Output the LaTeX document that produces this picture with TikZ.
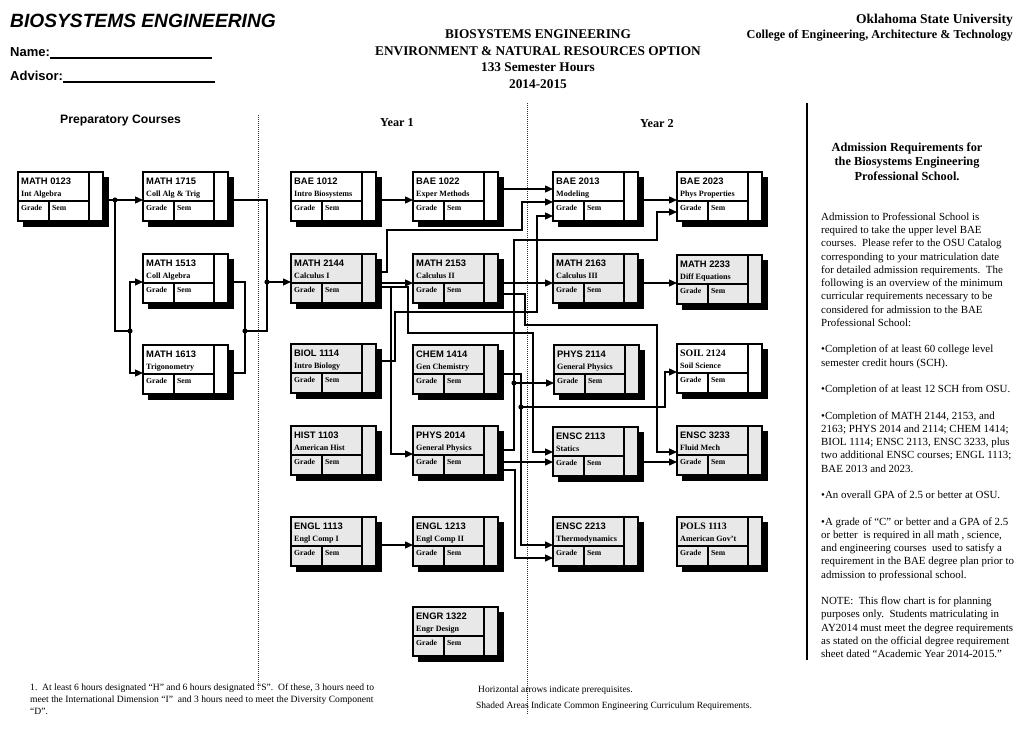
\documentclass[tikz,border=0pt]{standalone}
\usepackage{fontspec}
\setmainfont{Liberation Serif}
\newfontfamily\arialf{Liberation Sans}
\usetikzlibrary{arrows.meta}
\definecolor{shade}{RGB}{232,232,232}

\tikzset{
 cbox/.style={draw, line width=1.3pt, minimum width=85pt, minimum height=49pt, inner sep=0pt, outer sep=0pt, anchor=north west},
 cline/.style={line width=1.3pt},
 conn/.style={line width=1.3pt},
 arr/.style={conn, -{Triangle[length=8pt,width=7pt]}},
 dotline/.style={line width=1pt, dash pattern=on 1pt off 1pt, black!80},
 codef/.style={font=\arialf\bfseries\fontsize{9.4}{11}\selectfont},
 codet/.style={font=\bfseries\fontsize{9.8}{11}\selectfont},
 subf/.style={font=\bfseries\fontsize{8.1}{9}\selectfont},
 gradef/.style={font=\bfseries\fontsize{7.7}{9}\selectfont},
 jdot/.style={fill=black},
 txt/.style={inner sep=0pt},
}

\newcommand\crs[7]{%
  \fill[black] ({#2+5},{#3+5}) rectangle ({#2+91},{#3+55});
  \node[cbox,fill=#6] (#1) at (#2,#3) {};
  \draw[cline] ([shift={(71,0)}]#1.north west) -- ++(0,49);
  \draw[cline] ([shift={(0,29)}]#1.north west) -- ++(71,0);
  \draw[cline] ([shift={(31,29)}]#1.north west) -- ++(0,20);
  \node[#7,anchor=base west,txt] (#1-c) at ([shift={(3,12)}]#1.north west) {#4};
  \node[subf,anchor=base west,txt] (#1-t) at ([shift={(3,24)}]#1.north west) {#5};
  \node[gradef,anchor=base west,txt] (#1-g) at ([shift={(3,38)}]#1.north west) {Grade};
  \node[gradef,anchor=base west,txt] (#1-s) at ([shift={(34,38)}]#1.north west) {Sem};
}

\begin{document}
\begin{tikzpicture}[x=1pt,y=-1pt]
\useasboundingbox (0,0) rectangle (1024,738);

% ---------- header ----------
\node[txt,anchor=base west,font=\arialf\bfseries\itshape\fontsize{19.2}{22}\selectfont] (title) at (10,28) {BIOSYSTEMS ENGINEERING};
\node[txt,anchor=base west,font=\arialf\bfseries\fontsize{13}{15}\selectfont] (name) at (10,57) {Name:\rule[-1.8pt]{162pt}{1.3pt}};
\node[txt,anchor=base west,font=\arialf\bfseries\fontsize{13}{15}\selectfont] (advisor) at (10,81) {Advisor:\rule[-1.8pt]{152pt}{1.3pt}};

\node[txt,anchor=base,font=\bfseries\fontsize{13.3}{16}\selectfont] (h1) at (538,39) {BIOSYSTEMS ENGINEERING};
\node[txt,anchor=base,font=\bfseries\fontsize{13.3}{16}\selectfont] (h2) at (538,55.5) {ENVIRONMENT \& NATURAL RESOURCES OPTION};
\node[txt,anchor=base,font=\bfseries\fontsize{13.3}{16}\selectfont] (h3) at (538,72) {133 Semester Hours};
\node[txt,anchor=base,font=\bfseries\fontsize{13.3}{16}\selectfont] (h4) at (538,88.5) {2014-2015};

\node[txt,anchor=base east,font=\bfseries\fontsize{13.5}{16}\selectfont] (osu) at (1013,24) {Oklahoma State University};
\node[txt,anchor=base east,font=\bfseries\fontsize{12.2}{14}\selectfont] (ceat) at (1013,38.5) {College of Engineering, Architecture \& Technology};

\node[txt,anchor=base west,font=\arialf\bfseries\fontsize{12.2}{14}\selectfont] (prep) at (60,124) {Preparatory Courses};
\node[txt,anchor=base west,font=\bfseries\fontsize{12.2}{14}\selectfont] (y1) at (380,127) {Year 1};
\node[txt,anchor=base west,font=\bfseries\fontsize{12.2}{14}\selectfont] (y2) at (640,128) {Year 2};

% ---------- dividers ----------
\draw[dotline] (258,115) -- (258,690);
\draw[dotline] (527,103) -- (527,715);
\draw[line width=1.3pt] (807,103) -- (807,660);

% ---------- courses ----------
\crs{m0123}{18}{172}{MATH 0123}{Int Algebra}{white}{codef}
\crs{m1715}{143}{172}{MATH 1715}{Coll Alg \& Trig}{white}{codef}
\crs{m1513}{143}{254}{MATH 1513}{Coll Algebra}{white}{codef}
\crs{m1613}{143}{345}{MATH 1613}{Trigonometry}{white}{codef}
\crs{b1012}{291}{172}{BAE 1012}{Intro Biosystems}{white}{codef}
\crs{b1022}{413}{172}{BAE 1022}{Exper Methods}{white}{codef}
\crs{m2144}{291}{254}{MATH 2144}{Calculus I}{shade}{codef}
\crs{m2153}{413}{254}{MATH 2153}{Calculus II}{shade}{codef}
\crs{bi1114}{291}{344}{BIOL 1114}{Intro Biology}{shade}{codef}
\crs{c1414}{413}{345}{CHEM 1414}{Gen Chemistry}{shade}{codef}
\crs{h1103}{291}{426}{HIST 1103}{American Hist}{shade}{codef}
\crs{p2014}{413}{426}{PHYS 2014}{General Physics}{shade}{codef}
\crs{e1113}{291}{517}{ENGL 1113}{Engl Comp I}{shade}{codef}
\crs{e1213}{413}{517}{ENGL 1213}{Engl Comp II}{shade}{codef}
\crs{en1322}{413}{607}{ENGR 1322}{Engr Design}{shade}{codef}
\crs{b2013}{553}{172}{BAE 2013}{Modeling}{white}{codef}
\crs{b2023}{677}{172}{BAE 2023}{Phys Properties}{white}{codef}
\crs{m2163}{553}{254}{MATH 2163}{Calculus III}{shade}{codef}
\crs{m2233}{677}{255}{MATH 2233}{Diff Equations}{shade}{codef}
\crs{p2114}{554}{345}{PHYS 2114}{General Physics}{shade}{codef}
\crs{s2124}{677}{344}{SOIL 2124}{Soil Science}{white}{codet}
\crs{es2113}{553}{427}{ENSC 2113}{Statics}{shade}{codef}
\crs{es3233}{677}{426}{ENSC 3233}{Fluid Mech}{shade}{codef}
\crs{es2213}{553}{517}{ENSC 2213}{Thermodynamics}{shade}{codef}
\crs{po1113}{677}{517}{POLS 1113}{American Gov’t}{shade}{codet}

% ---------- junctions ----------
\coordinate (j1) at (115,200);
\coordinate (j2) at (130,331);
\coordinate (j3) at (245,331);
\coordinate (j4) at (267,282);
\coordinate (j5) at (514,383);
\coordinate (j6) at (521,407);
\coordinate (k1) at (391,287);

% ---------- connectors ----------
\draw[arr] (m0123.east |- j1) -- (m1715.west |- j1);
\draw[conn] (j1) |- (j2);
\draw[arr] (j2) |- (m1513.west |- 0,282);
\draw[arr] (j2) |- (m1613.west |- 0,373);
\draw[conn] (m1513.east |- 0,282) -| (j3);
\draw[conn] (m1613.east |- 0,373) -| (j3);
\draw[conn] (j3) -| (j4);
\draw[conn] (m1715.east |- j1) -| (j4);
\draw[arr] (j4) -- (m2144.west |- j4);

\draw[arr] (b1012.east |- 0,200) -- (b1022.west |- 0,200);
\draw[arr] (b1022.east |- 0,189) -- (b2013.west |- 0,189);
\draw[arr] (m2144.east |- 0,283) -- (m2153.west |- 0,283);
\draw[arr] (m2144.east |- 0,272) -- (387,272) -- (387,230) -- (522,230) -- (522,202) -- (b2013.west |- 0,202);
\draw[arr] (bi1114.east |- 0,361) -- (395,361) -- (395,312) -- (537,312) -- (537,216) -- (b2013.west |- 0,216);
\draw[arr] (m2144.east |- k1) -- (408,287) -- (408,333) -- (533,333) -- (533,452) -- (es2113.west |- 0,452);
\draw[arr] (k1) -- (391,454) -- (p2014.west |- 0,454);
\draw[arr] (m2153.east |- 0,283) -- (m2163.west |- 0,283);
\draw[arr] (m2153.east |- 0,294) -- (525,294) -- (525,325) -- (657,325) -- (657,452) -- (es3233.west |- 0,452);
\draw[arr] (c1414.east |- 0,374) -- (521,374) -- (521,545) -- (es2213.west |- 0,545);
\draw[arr] (j6) -- (665,407) -- (665,372) -- (s2124.west |- 0,372);
\draw[arr] (p2014.east |- 0,450) -- (514,450) -- (514,240) -- (657,240) -- (657,212) -- (b2023.west |- 0,212);
\draw[arr] (j5) -- (p2114.west |- j5);
\draw[arr] (p2014.east |- 0,470) -- (515,470) -- (515,558) -- (es2213.west |- 0,558);
\draw[arr] (p2014.east |- 0,462) -- (es2113.west |- 0,462);
\draw[arr] (b2013.east |- 0,200) -- (b2023.west |- 0,200);
\draw[arr] (m2163.east |- 0,283) -- (m2233.west |- 0,283);
\draw[arr] (es2113.east |- 0,462) -- (es3233.west |- 0,462);
\draw[arr] (e1113.east |- 0,545) -- (e1213.west |- 0,545);

\foreach \j in {j1,j2,j3,j4,j5,j6} \fill[jdot] (\j) circle[radius=2.6pt];

% ---------- right column ----------
\node[txt,anchor=base,font=\bfseries\fontsize{12.3}{14}\selectfont] (ar1) at (907,152) {Admission Requirements for};
\node[txt,anchor=base,font=\bfseries\fontsize{12.3}{14}\selectfont] (ar2) at (907,166) {the Biosystems Engineering};
\node[txt,anchor=base,font=\bfseries\fontsize{12.3}{14}\selectfont] (ar3) at (907,180) {Professional School.};

\node[txt,anchor=north west,align=left,font=\fontsize{10.9}{13.25}\selectfont] (req) at (821,212.5) {Admission to Professional School is\\
required to take the upper level BAE\\
courses.\ \ Please refer to the OSU Catalog\\
corresponding to your matriculation date\\
for detailed admission requirements.\ \ The\\
following is an overview of the minimum\\
curricular requirements necessary to be\\
considered for admission to the BAE\\
Professional School:\\[13.25pt]
•Completion of at least 60 college level\\
semester credit hours (SCH).\\[13.25pt]
•Completion of at least 12 SCH from OSU.\\[13.25pt]
•Completion of MATH 2144, 2153, and\\
2163; PHYS 2014 and 2114; CHEM 1414;\\
BIOL 1114; ENSC 2113, ENSC 3233, plus\\
two additional ENSC courses; ENGL 1113;\\
BAE 2013 and 2023.\\[13.25pt]
•An overall GPA of 2.5 or better at OSU.\\[13.25pt]
•A grade of “C” or better and a GPA of 2.5\\
or better\ \ is required in all math , science,\\
and engineering courses\ \ used to satisfy a\\
requirement in the BAE degree plan prior to\\
admission to professional school.\\[13.25pt]
NOTE:\ \ This flow chart is for planning\\
purposes only.\ \ Students matriculating in\\
AY2014 must meet the degree requirements\\
as stated on the official degree requirement\\
sheet dated “Academic Year 2014-2015.”};

% ---------- footnotes ----------
\node[txt,anchor=north west,align=left,font=\fontsize{9.6}{12}\selectfont] (fn) at (30,683.5) {1.\ \ At least 6 hours designated “H” and 6 hours designated “S”.\ \ Of these, 3 hours need to\\
meet the International Dimension “I”\ \ and 3 hours need to meet the Diversity Component\\
“D”.};
\node[txt,anchor=base west,font=\fontsize{9.5}{11}\selectfont] (note1) at (478,692) {Horizontal arrows indicate prerequisites.};
\node[txt,anchor=base west,font=\fontsize{9.5}{11}\selectfont] (note2) at (476,708) {Shaded Areas Indicate Common Engineering Curriculum Requirements.};
\end{tikzpicture}
\end{document}
